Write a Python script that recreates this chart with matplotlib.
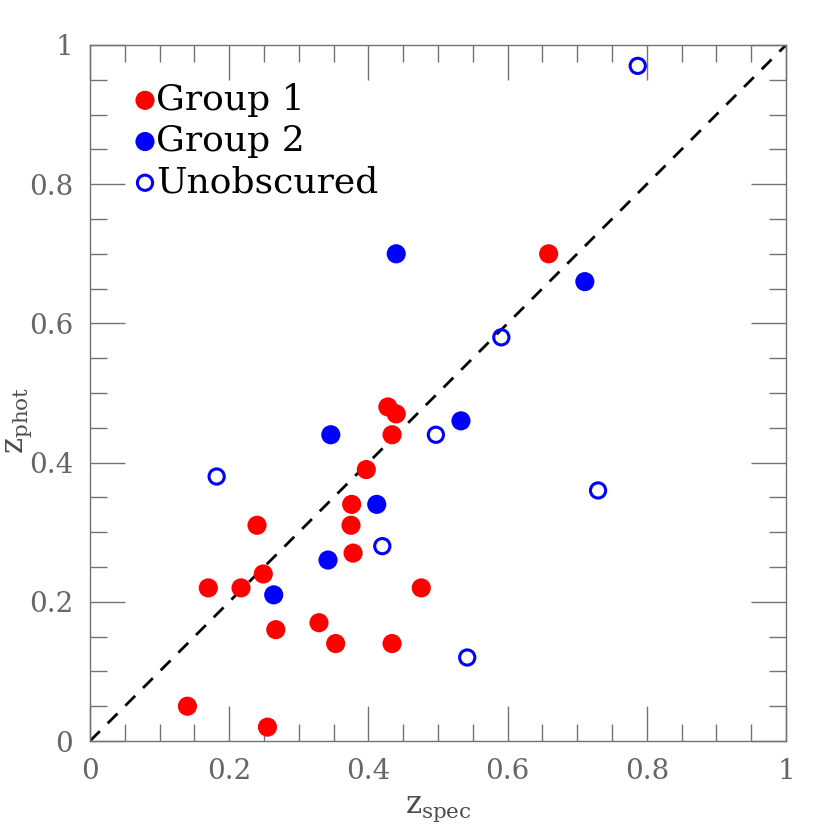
import numpy as np
import matplotlib.pyplot as plt

# photometric vs spectroscopic redshifts
g1_zspec = [0.14, 0.255, 0.17, 0.217, 0.249, 0.240, 0.267, 0.329, 0.353, 0.376, 0.375,
            0.378, 0.397, 0.428, 0.440, 0.434, 0.434, 0.476, 0.659]
g1_zphot = [0.05, 0.02, 0.22, 0.22, 0.24, 0.31, 0.16, 0.17, 0.14, 0.34, 0.31,
            0.27, 0.39, 0.48, 0.47, 0.44, 0.14, 0.22, 0.70]

g2_zspec = [0.264, 0.342, 0.346, 0.412, 0.440, 0.533, 0.711]
g2_zphot = [0.21, 0.26, 0.44, 0.34, 0.70, 0.46, 0.66]

unobs_zspec = [0.182, 0.420, 0.497, 0.542, 0.591, 0.730, 0.787]
unobs_zphot = [0.38, 0.28, 0.44, 0.12, 0.58, 0.36, 0.97]

plt.rcParams['font.family'] = ['DejaVu Serif']
plt.rcParams['mathtext.fontset'] = 'dejavuserif'

fig = plt.figure(figsize=(8.3, 8.3), dpi=100)
ax = fig.add_axes([0.1084, 0.1072, 0.8386, 0.8386])

ax.plot([0, 1], [0, 1], color='black', ls=(0, (5, 4)), lw=2, zorder=1)

ax.scatter(g1_zspec, g1_zphot, s=190, color='red', edgecolors='none', label='Group 1', zorder=3)
ax.scatter(g2_zspec, g2_zphot, s=190, color='blue', edgecolors='none', label='Group 2', zorder=3)
ax.scatter(unobs_zspec, unobs_zphot, s=120, facecolors='none', edgecolors='blue',
           linewidths=2.2, label='Unobscured', zorder=3)

ax.set_xlim(0, 1)
ax.set_ylim(0, 1)
ax.set_xticks(np.arange(0, 1.01, 0.2))
ax.set_yticks(np.arange(0, 1.01, 0.2))
ax.set_xticklabels(['0', '0.2', '0.4', '0.6', '0.8', '1'])
ax.set_yticklabels(['0', '0.2', '0.4', '0.6', '0.8', '1'])
ax.set_xticks(np.arange(0, 1.01, 0.05), minor=True)
ax.set_yticks(np.arange(0, 1.01, 0.05), minor=True)
ax.tick_params(which='both', direction='in', top=True, right=True, colors='0.45',
               labelcolor='0.4', labelsize=20, pad=12)
ax.tick_params(which='major', length=25, width=1)
ax.tick_params(which='minor', length=12, width=1)
for sp in ax.spines.values():
    sp.set_color('0.45')
    sp.set_linewidth(1)

ax.set_xlabel(r'$\mathrm{z_{spec}}$', fontsize=22, color='0.3', labelpad=6)
ax.set_ylabel(r'$\mathrm{z_{phot}}$', fontsize=22, color='0.3', labelpad=0)
ax.yaxis.set_label_coords(-0.08, 0.46)

ax.legend(loc='upper left', bbox_to_anchor=(0.022, 0.982), frameon=False, fontsize=26,
          handletextpad=-0.1, labelspacing=0.2, borderpad=0.2, handlelength=0.8)

plt.savefig('out.png', dpi=100)
